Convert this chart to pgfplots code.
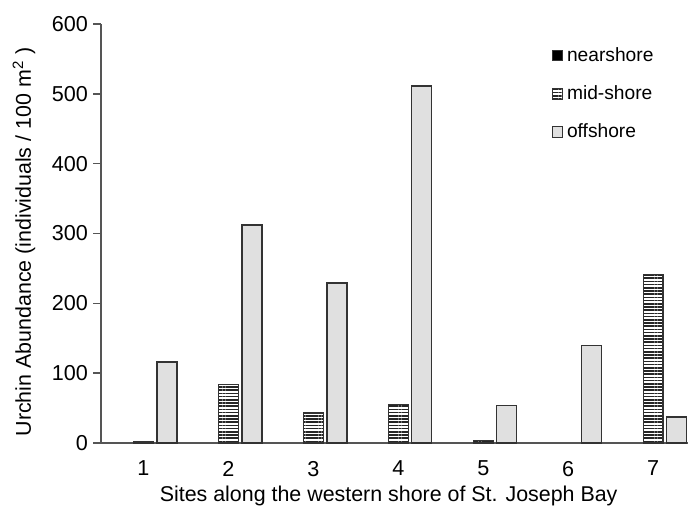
\documentclass[border=0pt]{standalone}
\usepackage{fontspec}
\setmainfont{Liberation Sans}
\usepackage{pgfplots}
\pgfplotsset{compat=1.18}
\usetikzlibrary{patterns.meta}
\definecolor{offfill}{HTML}{E0E0E0}
\definecolor{edge}{HTML}{333333}
\definecolor{axcol}{HTML}{555555}
\begin{document}
\begin{tikzpicture}
\useasboundingbox (-50.5pt,-36pt) rectangle (293.5pt,221.5pt);
\begin{axis}[
  at={(0,0)}, anchor=south west,
  scale only axis,
  width=293.5pt, height=209.5pt,
  xmin=0.5, xmax=7.41,
  ymin=0, ymax=600,
  ytick={0,100,...,600},
  xtick={1,...,7},
  axis lines*=left,
  axis line style={axcol, line width=0.7pt, -},
  every tick/.style={axcol, line width=0.7pt},
  tick align=outside,
  major tick length=4pt,
  xtick style={draw=none},
  /pgf/number format/assume math mode=true,
  tick label style={font=\fontsize{10.8}{12}\selectfont},
  xticklabel style={yshift=-1.5pt},
  yticklabel style={xshift=1pt},
  label style={font=\fontsize{10.7}{12}\selectfont},
  xlabel={Sites along the western shore of St. Joseph Bay},
  ylabel={Urchin Abundance (individuals / 100 m\textsuperscript{2} )},
  xlabel style={at={(axis description cs:0.49,0)}, anchor=center, yshift=-26.5pt},
  ylabel style={at={(axis description cs:0,0.48)}, anchor=center, rotate=0, yshift=38.5pt},
  ybar,
  bar width=0.235,
  legend style={draw=none, fill=none, at={(0.767,0.955)}, anchor=north west,
    font=\fontsize{9.6}{11}\selectfont, row sep=6.6pt, inner sep=0pt},
  legend cell align=left,
  legend image code/.code={\draw[#1, draw=edge, line width=0.5pt] (0pt,-2.6pt) rectangle (5.2pt,2.6pt);},
]
\addlegendimage{fill=black}
\addlegendentry{nearshore}
\addplot[bar shift=0, draw=edge, line width=0.7pt,
  pattern={Lines[angle=0,distance=1.6pt,line width=0.75pt]}, pattern color=black!85]
  coordinates {(1,2) (2,84) (3,43) (4,55) (5,4) (7,241)};
\addlegendentry{mid-shore}
\addplot[bar shift=0.276, draw=edge, line width=0.7pt, fill=offfill]
  coordinates {(1,116) (2,312) (3,229) (4,511) (5,54) (6,140) (7,37)};
\addlegendentry{offshore}
\end{axis}
\end{tikzpicture}
\end{document}
